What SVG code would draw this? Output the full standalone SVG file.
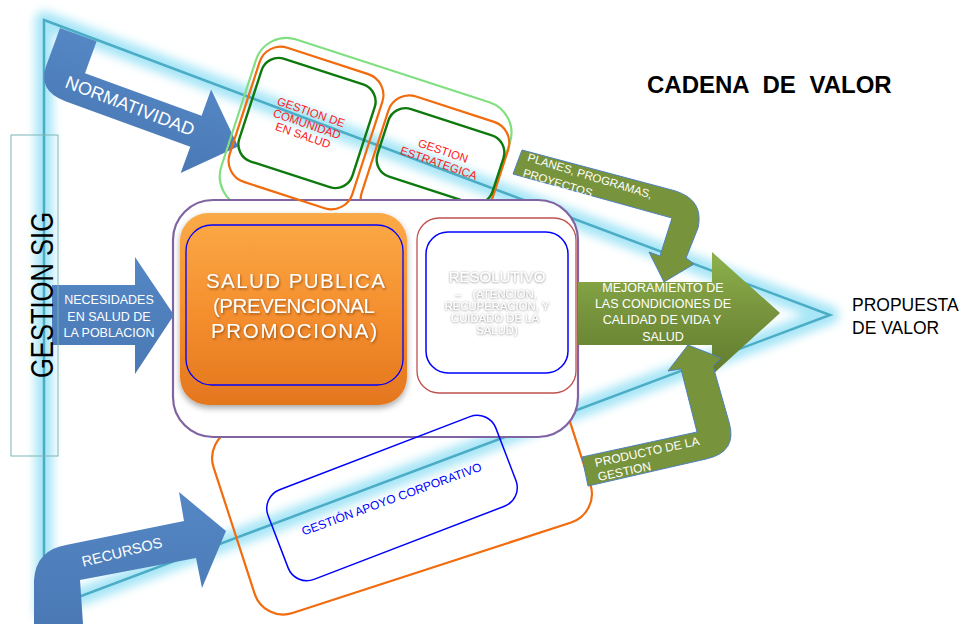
<svg xmlns="http://www.w3.org/2000/svg" width="980" height="624" viewBox="0 0 980 624">
<defs>
<style>
text { font-family: "Liberation Sans", Arial, sans-serif; }
.wt { fill:#FFFFFF; }
.blueArrow { fill:url(#blueGrad); }
.greenArrow { fill:#77933C; stroke:#4F81BD; stroke-width:1; }
.og { fill:none; stroke:#F26B0C; stroke-width:2.2; }
.dg { fill:none; stroke:#0E7A0E; stroke-width:2.4; }
.red { fill:#FF1A1A; font-size:11.5px; text-anchor:middle; }
.res { fill:#FFFFFF; text-anchor:middle; font-size:11.3px; }
.resTitle { fill:#FFFFFF; text-anchor:middle; font-size:15px; }
</style>
<filter id="glow" filterUnits="userSpaceOnUse" x="0" y="0" width="980" height="624">
<feGaussianBlur stdDeviation="5"/>
</filter>
<filter id="boxShadow" x="-10%" y="-10%" width="125%" height="130%">
<feDropShadow dx="0" dy="3" stdDeviation="3" flood-color="#000" flood-opacity="0.35"/>
</filter>
<filter id="txtShadow" x="-10%" y="-30%" width="120%" height="160%">
<feDropShadow dx="1" dy="1.5" stdDeviation="1" flood-color="#5A2A00" flood-opacity="0.55"/>
</filter>
<filter id="txtGlow" x="-10%" y="-40%" width="120%" height="180%">
<feDropShadow dx="0" dy="0.5" stdDeviation="1.2" flood-color="#505050" flood-opacity="0.75"/>
</filter>
<linearGradient id="orangeGrad" x1="0" y1="0" x2="0" y2="1">
<stop offset="0" stop-color="#FBAA48"/>
<stop offset="0.5" stop-color="#F5902F"/>
<stop offset="1" stop-color="#E4761E"/>
</linearGradient>
<linearGradient id="greenGrad" x1="0" y1="0" x2="0" y2="1">
<stop offset="0" stop-color="#8DB14C"/>
<stop offset="0.5" stop-color="#77933C"/>
<stop offset="1" stop-color="#617C2E"/>
</linearGradient>
<linearGradient id="blueGrad" x1="0" y1="0" x2="0" y2="1">
<stop offset="0" stop-color="#5487C4"/>
<stop offset="1" stop-color="#4A79B5"/>
</linearGradient>
</defs>

<rect width="980" height="624" fill="#FFFFFF"/>

<g id="value-chain-frame">
<path d="M44,20 L830,315 L44,610 Z" fill="none" stroke="#A8E6F7" stroke-width="18" stroke-linejoin="round" filter="url(#glow)"/>
<path d="M44,20 L830,315 L44,610 Z" fill="none" stroke="#4BACC6" stroke-width="2.5" stroke-linejoin="miter"/>
</g>

<g id="connectors">
<g id="arrow-normatividad">
<path class="blueArrow" transform="translate(60,28) rotate(20)" d="M0,0 L39,0 L39,34 L163,34 L163,6 L208,50.5 L163,95 L163,67 L30,67 Q0,67 0,40 Z"/>
<text class="wt" transform="translate(130,106) rotate(21)" text-anchor="middle" y="6" font-size="18">NORMATIVIDAD</text>
</g>
</g>

<g id="gestion-container">
<rect x="-133.5" y="-88" width="267" height="176" rx="32" transform="translate(365.6,154.5) rotate(18)" fill="none" stroke="#80DF80" stroke-width="2.2"/>
</g>

<g id="gestion-estrategica">
<rect class="og" x="-63" y="-65" width="126" height="130" rx="22" transform="translate(435,171) rotate(18)"/>
<rect class="dg" x="-60.5" y="-35.5" width="121" height="71" rx="18" transform="translate(440.5,156) rotate(18)"/>
<g transform="translate(441,157) rotate(19)">
<text class="red" x="0" y="-2.5">GESTION</text>
<text class="red" x="0" y="10.5">ESTRATEGICA</text>
</g>
</g>

<g id="apoyo-container">
<rect class="og" x="-176.5" y="-96.5" width="353" height="193" rx="30" transform="translate(402,476) rotate(-18)" stroke="#E86A0A"/>
</g>

<g id="macro-procesos">
<rect x="173" y="200" width="405" height="237" rx="40" fill="#FFFFFF" stroke="#8064A2" stroke-width="2.2"/>
</g>

<g id="gestion-comunidad">
<rect class="og" x="-64.5" y="-70.5" width="129" height="141" rx="22" transform="translate(306,128) rotate(18)"/>
<rect class="dg" x="-59.5" y="-54" width="119" height="108" rx="18" transform="translate(307,123) rotate(18)"/>
<g transform="translate(307,124) rotate(19)">
<text class="red" x="0" y="-8.5">GESTION DE</text>
<text class="red" x="0" y="4">COMUNIDAD</text>
<text class="red" x="0" y="16">EN SALUD</text>
</g>
</g>

<g id="salud-publica">
<rect x="180" y="213" width="227" height="192" rx="28" fill="url(#orangeGrad)" filter="url(#boxShadow)"/>
<rect x="186" y="225" width="217" height="160" rx="26" fill="none" stroke="#0000FF" stroke-width="1.3"/>
<g class="wt" font-size="20.5" filter="url(#txtShadow)">
<text x="206" y="288" textLength="179">SALUD PUBLICA</text>
<text x="213" y="313" textLength="162">(PREVENCIONAL</text>
<text x="211" y="338" textLength="166">PROMOCIONA)</text>
</g>
</g>

<g id="resolutivo">
<rect x="417" y="218" width="159" height="175" rx="22" fill="#FFFFFF" stroke="#C0504D" stroke-width="1.3"/>
<rect x="426" y="232" width="142" height="141" rx="22" fill="none" stroke="#0000FF" stroke-width="1.5"/>
<g filter="url(#txtGlow)">
<text class="resTitle" x="497" y="282">RESOLUTIVO</text>
<text class="res" x="496" y="298" word-spacing="8">– (ATENCION,</text>
<text class="res" x="497" y="310">RECUPERACION, Y</text>
<text class="res" x="495" y="322">CUIDADO DE LA</text>
<text class="res" x="497" y="334">SALUD)</text>
</g>
</g>

<g id="gestion-apoyo">
<rect x="-122" y="-48" width="244" height="96" rx="20" transform="translate(392,498) rotate(-21)" fill="none" stroke="#0000FF" stroke-width="1.5"/>
<text transform="translate(393,503) rotate(-20)" text-anchor="middle" font-size="12" fill="#0000FF">GESTIÓN APOYO CORPORATIVO</text>
</g>

<g id="connectors-2">
<g id="arrow-necesidades">
<path class="blueArrow" d="M52,285 L135,285 L135,257 L174,315 L135,374 L135,345 L52,345 Z"/>
<g class="wt" font-size="12.5" text-anchor="middle">
<text x="109" y="304">NECESIDADES</text>
<text x="109" y="321">EN SALUD DE</text>
<text x="109" y="337">LA POBLACION</text>
</g>
</g>
</g>

<g id="gestion-sig">
<rect x="11" y="135" width="47" height="321" fill="none" stroke="#7DB5B5" stroke-width="1"/>
<text transform="translate(53,295) rotate(-90)" text-anchor="middle" font-size="31" textLength="166" lengthAdjust="spacingAndGlyphs" fill="#000000">GESTION SIG</text>
</g>

<g id="connectors-3">
<g id="arrow-mejoramiento">
<path d="M578,282 L712,282 L712,252 L780,313 L712,375 L712,345 L578,345 Z" fill="url(#greenGrad)"/>
<g class="wt" font-size="12.5" text-anchor="middle">
<text x="663" y="292">MEJORAMIENTO DE</text>
<text x="663" y="308">LAS CONDICIONES DE</text>
<text x="662" y="324">CALIDAD DE VIDA Y</text>
<text x="663" y="341">SALUD</text>
</g>
</g>
<g id="arrow-planes">
<path class="greenArrow" d="M522,150 L672,190 C690,195 703,205 698,228 L686,258 L694,264 L664,282 L649,252 L660,256 L672,218 L513,174 Z"/>
<g class="wt" font-size="11.5" transform="translate(528,157) rotate(17)">
<text x="0" y="4">PLANES, PROGRAMAS,</text>
<text x="0" y="20">PROYECTOS</text>
</g>
</g>
<g id="arrow-producto">
<path class="greenArrow" d="M588,486 L582,457 L697,432 L681,369 L668,371 L688,345 L721,358 L713,366 L729,422 Q738,452 706,459 Z"/>
<g class="wt" font-size="12" transform="translate(595,463) rotate(-12)">
<text x="0" y="4">PRODUCTO DE LA</text>
<text x="0" y="18.5">GESTION</text>
</g>
</g>
<g id="arrow-recursos">
<path class="blueArrow" d="M34,624 L34,580 Q36,550 66,545 L184,521 L179,492 L226,531 L202,588 L196,558 L80,580 L83,624 Z"/>
<text class="wt" transform="translate(122,552) rotate(-14)" text-anchor="middle" y="5" font-size="14.5">RECURSOS</text>
</g>
</g>

<g id="title">
<text x="647" y="93" font-size="24" font-weight="bold" word-spacing="7" fill="#000000">CADENA DE VALOR</text>
</g>

<g id="propuesta-valor">
<text x="852" y="311" font-size="17.5" fill="#000000">PROPUESTA</text>
<text x="852" y="334" font-size="17.5" fill="#000000">DE VALOR</text>
</g>
</svg>
